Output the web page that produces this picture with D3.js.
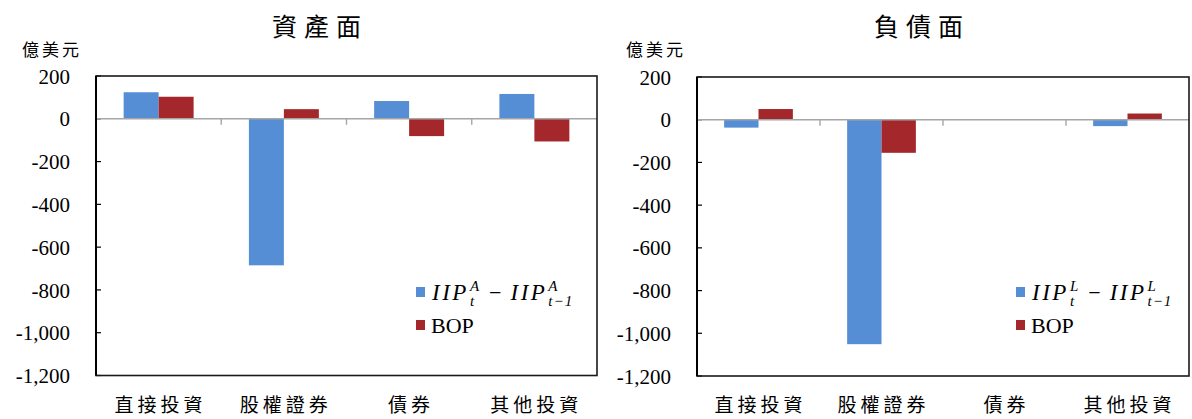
<!DOCTYPE html>
<html>
<head>
<meta charset="utf-8">
<script src="https://cdn.jsdelivr.net/npm/d3@7"></script>
<style>
  html, body { margin: 0; padding: 0; background: #fff; }
  svg { display: block; }
</style>
</head>
<body>
<svg id="chart" width="1192" height="419"></svg>
<script>
// Categories and series (億美元)
const categories = ["直接投資", "股權證券", "債券", "其他投資"];
const assetIIP = [124, -685, 83, 116];
const assetBOP = [103, 45, -81, -106];
const liabIIP = [-37, -1051, 0, -30];
const liabBOP = [50, -155, -1, 29];
const yTicks = [200, 0, -200, -400, -600, -800, -1000, -1200];
const seriesNames = ["IIP", "BOP"];
const colors = { IIP: "#558ed5", BOP: "#a4282b" };

const CJK = "'Noto Sans CJK TC', 'Noto Sans CJK SC', sans-serif";
const SERIF = "'Liberation Serif', 'Times New Roman', serif";

const svg = d3.select("#chart");
const fmtNum = d => d3.format(",d")(d).replace("\u2212", "-");

function drawPanel(opt) {
  const g = svg.append("g");
  const y = d3.scaleLinear().domain([-1200, 200]).range([opt.bottom, opt.top]);
  const x0 = d3.scaleBand().domain(categories).range([opt.left, opt.right]).padding(0);
  const x1 = d3.scaleBand().domain(seriesNames).range([0, x0.bandwidth()])
    .paddingInner(0).paddingOuter(0.79);

  // title
  g.append("text")
    .attr("x", opt.titleX).attr("y", 36)
    .attr("text-anchor", "middle")
    .style("font-family", CJK).style("font-size", "25px")
    .style("letter-spacing", "7px")
    .text(opt.title);

  // unit label
  g.append("text")
    .attr("x", opt.unitX).attr("y", 56)
    .style("font-family", CJK).style("font-size", "17px")
    .style("letter-spacing", "3px")
    .text("億美元");

  // y axis labels + inner ticks
  const yAxis = d3.axisLeft(y).tickValues(yTicks).tickSize(0).tickPadding(26)
    .tickFormat(fmtNum);
  const ya = g.append("g").attr("transform", `translate(${opt.left},0)`).call(yAxis)
    .attr("font-family", SERIF).attr("font-size", 21);
  ya.select(".domain").remove();
  ya.selectAll("text")
    .style("font-family", SERIF).style("font-size", "21px").attr("fill", "#000")
    .attr("dy", "0.34em");

  g.selectAll(".ytick").data(yTicks).join("line")
    .attr("x1", opt.left).attr("x2", opt.left + 5)
    .attr("y1", d => y(d)).attr("y2", d => y(d))
    .attr("stroke", "#000").attr("stroke-width", 1.2);

  // bars
  const rows = categories.map((c, i) => ({ c, vals: [
    { s: "IIP", v: opt.iip[i] }, { s: "BOP", v: opt.bop[i] }] }));
  const grp = g.selectAll(".grp").data(rows).join("g")
    .attr("transform", d => `translate(${x0(d.c)},0)`);
  grp.selectAll("rect").data(d => d.vals).join("rect")
    .attr("x", d => x1(d.s))
    .attr("width", x1.bandwidth())
    .attr("y", d => y(Math.max(0, d.v)))
    .attr("height", d => Math.abs(y(d.v) - y(0)))
    .attr("fill", d => colors[d.s]);

  // zero line with category tick marks
  g.append("line")
    .attr("x1", opt.left).attr("x2", opt.right)
    .attr("y1", y(0)).attr("y2", y(0))
    .attr("stroke", "#a6a6a6").attr("stroke-width", 1.6);
  const bounds = categories.slice(1).map(c => x0(c));
  g.selectAll(".ctick").data(bounds).join("line")
    .attr("x1", d => d).attr("x2", d => d)
    .attr("y1", y(0)).attr("y2", y(0) + 6)
    .attr("stroke", "#a6a6a6").attr("stroke-width", 1.4);

  // plot frame
  g.append("rect")
    .attr("x", opt.left).attr("y", opt.top)
    .attr("width", opt.right - opt.left).attr("height", opt.bottom - opt.top)
    .attr("fill", "none").attr("stroke", "#1a1a1a").attr("stroke-width", 1.6);
  g.append("line")
    .attr("x1", opt.left).attr("x2", opt.left)
    .attr("y1", opt.top).attr("y2", opt.bottom)
    .attr("stroke", "#000").attr("stroke-width", 2);

  // category labels
  g.selectAll(".clab").data(categories).join("text")
    .attr("x", d => x0(d) + x0.bandwidth() / 2 + 2)
    .attr("y", 412)
    .attr("text-anchor", "middle")
    .style("font-family", CJK).style("font-size", "19px")
    .style("letter-spacing", "4px")
    .text(d => d);

  // legend
  const lx = opt.legendX, ly = 292;
  g.append("rect").attr("x", lx).attr("y", ly - 5).attr("width", 9).attr("height", 10)
    .attr("fill", colors.IIP);
  g.append("rect").attr("x", lx).attr("y", ly + 28).attr("width", 9).attr("height", 10)
    .attr("fill", colors.BOP);

  let cx = lx + 16;
  const base = ly + 8;
  function piece(txt, px, py, size, italic, spacing) {
    const t = g.append("text").attr("x", px).attr("y", py)
      .style("font-family", SERIF).style("font-size", size + "px")
      .style("letter-spacing", (spacing || 0) + "px")
      .style("font-style", italic ? "italic" : "normal").text(txt);
    return t.node().getComputedTextLength();
  }
  function term(subTxt) {
    cx += piece("IIP", cx, base, 23, true, 2.5);
    const w1 = piece(opt.sup, cx + 1, base - 9, 15, true, 0);
    const w2 = piece(subTxt, cx + 1, base + 6, 15, true, 1);
    cx += Math.max(w1, w2) + 2;
  }
  term("t");
  cx += 9;
  cx += piece("\u2212", cx, base, 22, false, 0);
  cx += 9;
  term("t\u22121");

  g.append("text").attr("x", lx + 15).attr("y", ly + 41)
    .style("font-family", SERIF).style("font-size", "22px").text("BOP");
}

drawPanel({
  title: "資產面", titleX: 320, unitX: 22,
  left: 96, right: 597, top: 76, bottom: 375.5,
  iip: assetIIP, bop: assetBOP, sup: "A", legendX: 416
});
drawPanel({
  title: "負債面", titleX: 922, unitX: 626,
  left: 697, right: 1189, top: 77, bottom: 376,
  iip: liabIIP, bop: liabBOP, sup: "L", legendX: 1016
});
</script>
</body>
</html>
